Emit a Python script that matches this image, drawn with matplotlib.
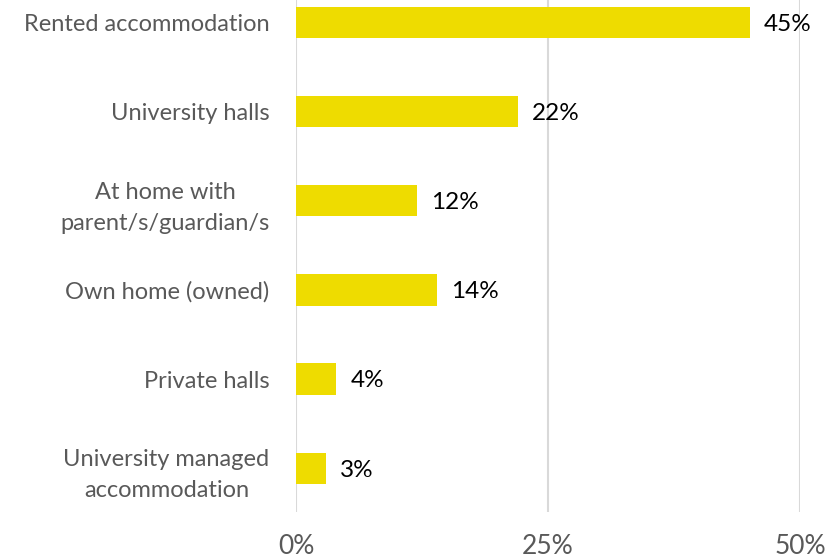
import matplotlib
matplotlib.use("Agg")
import matplotlib.pyplot as plt

categories = [
    "Rented accommodation",
    "University halls",
    "At home with\nparent/s/guardian/s",
    "Own home (owned)",
    "Private halls",
    "University managed\naccommodation",
]
values = [45, 22, 12, 14, 4, 3]
xticks = [0, 25, 50]
xtick_labels = ["0%", "25%", "50%"]

plt.rcParams["font.family"] = ["Lato", "DejaVu Sans"]

fig = plt.figure(figsize=(8.30, 5.58), dpi=100)
ax = fig.add_axes([296 / 830, 1 - 512 / 558, 504 / 830, 512 / 558])

ypos = list(range(len(categories)))
ax.barh(ypos, values, height=0.35, color="#EEDC00", zorder=3)

for y, v in zip(ypos, values):
    ax.text(v + 1.4, y + 0.02, f"{v}%", va="center", ha="left", fontsize=17.5, color="black")

ax.set_xlim(0, 50)
ax.set_ylim(5.49, -0.25)
ax.set_xticks(xticks)
ax.set_xticklabels(xtick_labels, fontsize=19, color="#595959")
ax.set_yticks(ypos)
ax.set_yticklabels(categories, fontsize=17, color="#595959", linespacing=1.6)
ax.tick_params(axis="both", length=0)
ax.tick_params(axis="x", pad=16)
ax.tick_params(axis="y", pad=19)
for lbl in ax.get_yticklabels():
    lbl.set_horizontalalignment("right")
    lbl.set_multialignment("center")

ax.grid(axis="x", color="#D9D9D9", linewidth=1.5, zorder=0)
for s in ax.spines.values():
    s.set_visible(False)

fig.savefig("out.png", dpi=100)
